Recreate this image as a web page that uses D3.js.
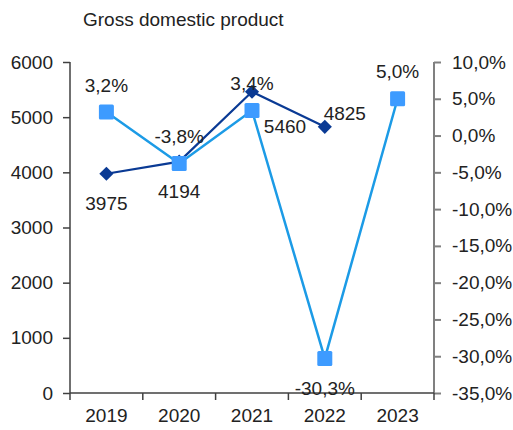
<!DOCTYPE html>
<html><head><meta charset="utf-8">
<script src="https://cdn.jsdelivr.net/npm/d3@7"></script>
<style>body{margin:0;background:#fff}svg{display:block}text{font-family:"Liberation Sans",Arial,sans-serif;fill:#222}</style>
</head><body><svg id="c" width="513" height="430"></svg>
<script>
const years = ["2019","2020","2021","2022","2023"];
const gdp = [3975, 4194, 5460, 4825, null];
const growth = [3.2, -3.8, 3.4, -30.3, 5.0];
const leftTicks = [0,1000,2000,3000,4000,5000,6000];
const rightTicks = [10,5,0,-5,-10,-15,-20,-25,-30,-35];
const title = "Gross domestic product";

// label placement rules (style, not data)
const gdpPlace = ["below","below","belowRight","aboveRight",null];
const grPlace = ["above","above","above","below","above"];

const svg = d3.select("#c");
const L=70,R=434,T=62,B=393;
const x = d3.scaleBand().domain(years).range([L,R]);
const yL = d3.scaleLinear().domain([0,6000]).range([B,T]);
const yR = d3.scaleLinear().domain([-35,10]).range([B,T]);
const fs = 19;
const axisCol="#404040";

svg.append("text").attr("x",83).attr("y",26).attr("font-size",fs).text(title);

// left axis
const gl = svg.append("g").attr("transform",`translate(${L},0)`)
  .call(d3.axisLeft(yL).tickValues(leftTicks).tickSize(7).tickPadding(10).tickFormat(d3.format("d")));
gl.selectAll("path,line").attr("stroke",axisCol).attr("stroke-width",1.5);
gl.select(".domain").attr("d",`M0,${T}V${B}`);
gl.selectAll("text").attr("font-size",fs).attr("font-family",null).attr("fill","#222");

// right axis
const gr = svg.append("g").attr("transform",`translate(${R},0)`)
  .call(d3.axisRight(yR).tickValues(rightTicks).tickSize(7).tickPadding(11)
    .tickFormat(d=>d3.format(".1f")(d).replace(".",",").replace("−","-")+"%"));
gr.selectAll("path,line").attr("stroke","#808080").attr("stroke-width",2);
gr.select(".domain").attr("d",`M0,${T}V${B}`);
gr.selectAll("text").attr("font-size",fs).attr("font-family",null).attr("fill","#222");

// bottom axis
const gb = svg.append("g").attr("transform",`translate(0,${B})`)
  .call(d3.axisBottom(x).tickSize(0).tickPadding(16));
gb.select(".domain").attr("d",`M${L},0H${R}`).attr("stroke",axisCol).attr("stroke-width",1.5);
gb.selectAll("text").attr("font-size",fs).attr("font-family",null).attr("fill","#222");
const bounds = years.map(y=>x(y)).concat([x(years[years.length-1])+x.bandwidth()]);
gb.selectAll(".bt").data(bounds).join("line").attr("x1",d=>d).attr("x2",d=>d)
  .attr("y1",0).attr("y2",7).attr("stroke",axisCol).attr("stroke-width",1.5);

const cx = d=>x(d)+x.bandwidth()/2;
const dark="#0A3A94", sq="#3D9BFF", lineLight="#1C9BE6";

// GDP series
const gdpPts = years.map((y,i)=>({y,v:gdp[i],i})).filter(d=>d.v!=null);
svg.append("path").datum(gdpPts)
  .attr("d",d3.line().x(d=>cx(d.y)).y(d=>yL(d.v)))
  .attr("fill","none").attr("stroke",dark).attr("stroke-width",2.2);
svg.selectAll(".dm").data(gdpPts).join("path")
  .attr("d",d3.symbol(d3.symbolSquare,100))
  .attr("transform",d=>`translate(${cx(d.y)},${yL(d.v)}) rotate(45)`)
  .attr("fill",dark);

// growth series
const grPts = years.map((y,i)=>({y,v:growth[i],i}));
svg.append("path").datum(grPts)
  .attr("d",d3.line().x(d=>cx(d.y)).y(d=>yR(d.v)))
  .attr("fill","none").attr("stroke",lineLight).attr("stroke-width",2.5);
svg.selectAll(".sq").data(grPts).join("rect")
  .attr("x",d=>cx(d.y)-7.5).attr("y",d=>yR(d.v)-7.5).attr("width",15).attr("height",15)
  .attr("rx",1.5).attr("fill",sq);

const off = {above:[0,-27],below:[0,30],belowRight:[33,35],aboveRight:[20,-13]};
svg.selectAll(".gl").data(gdpPts).join("text")
  .attr("x",d=>cx(d.y)+off[gdpPlace[d.i]][0])
  .attr("y",d=>yL(d.v)+off[gdpPlace[d.i]][1])
  .attr("dy","0.35em").attr("text-anchor","middle").attr("font-size",fs)
  .text(d=>d.v);
svg.selectAll(".grl").data(grPts).join("text")
  .attr("x",d=>cx(d.y)+off[grPlace[d.i]][0])
  .attr("y",d=>yR(d.v)+off[grPlace[d.i]][1])
  .attr("dy","0.35em").attr("text-anchor","middle").attr("font-size",fs)
  .text(d=>d3.format(".1f")(d.v).replace(".",",").replace("−","-")+"%");
</script></body></html>
